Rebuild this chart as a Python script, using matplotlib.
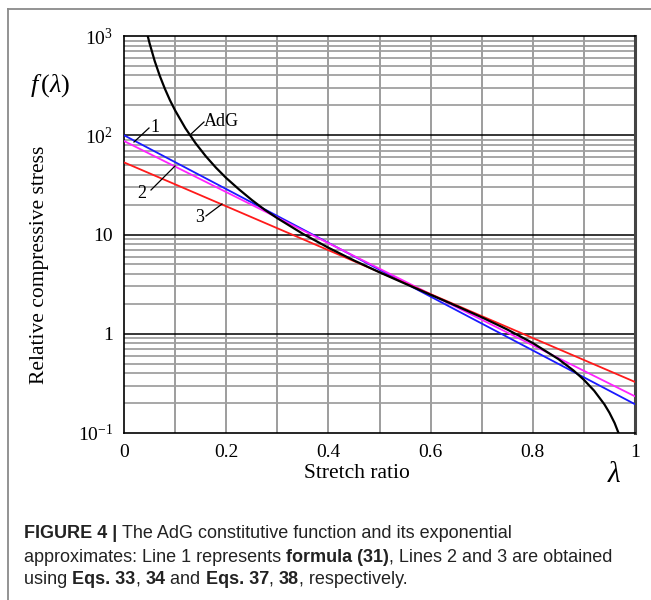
import numpy as np
import matplotlib
matplotlib.use("Agg")
import matplotlib.pyplot as plt
from matplotlib.lines import Line2D

# ---- data ----
lam_lines = [0.0, 1.0]
line1 = [100.0, 0.195]   # blue, formula (31)
line2 = [87.5, 0.234]    # magenta, Eqs. 33, 34
line3 = [53.3, 0.327]    # red, Eqs. 37, 38

adg_lam = [0.046, 0.05, 0.06, 0.07, 0.08, 0.09, 0.10, 0.12, 0.14, 0.16, 0.18,
           0.20, 0.225, 0.25, 0.275, 0.30, 0.35, 0.40, 0.45, 0.50, 0.55, 0.60,
           0.65, 0.70, 0.75, 0.80, 0.85, 0.88, 0.90, 0.92, 0.94, 0.95, 0.96,
           0.97, 0.975]
adg_f = [1021, 846, 561, 397, 294, 225, 178, 118, 83.2, 61.5, 47.1,
         37.1, 28.5, 22.3, 17.8, 14.6, 10.16, 7.36, 5.48, 4.16, 3.20, 2.47,
         1.91, 1.466, 1.104, 0.806, 0.556, 0.425, 0.3435, 0.267, 0.1948, 0.160, 0.1264,
         0.0935, 0.0774]

x_ticks = [0, 0.2, 0.4, 0.6, 0.8, 1]
x_ticklabels = ["0", "0.2", "0.4", "0.6", "0.8", "1"]
y_ticks = [0.1, 1, 10, 100, 1000]
y_ticklabels = [r"$10^{-1}$", "1", "10", r"$10^{2}$", r"$10^{3}$"]

plt.rcParams['mathtext.fontset'] = 'custom'
plt.rcParams['mathtext.rm'] = 'Liberation Serif'
plt.rcParams['mathtext.it'] = 'Liberation Serif:italic'
plt.rcParams['mathtext.bf'] = 'Liberation Serif:bold'
serif = 'Liberation Serif'

W, H = 651, 600
fig = plt.figure(figsize=(W / 100, H / 100), dpi=100)
ax = fig.add_axes([124 / W, 1 - 433 / H, (635 - 124) / W, (433 - 36) / H])

ax.set_yscale('log')
ax.set_xlim(0, 1)
ax.set_ylim(0.1, 1000)

# grid
for xv in np.arange(0.1, 1.0, 0.1):
    ax.axvline(xv, color='#8c8c8c', lw=1.2, zorder=1)
for dec in [0.1, 1, 10, 100]:
    for m in range(2, 10):
        ax.axhline(dec * m, color='#a0a0a0', lw=1.3, zorder=1)
for dec in [1, 10, 100]:
    ax.axhline(dec, color='black', lw=1.1, zorder=1.5)

ax.plot(lam_lines, line1, color='#1a1aff', lw=1.3, zorder=3)
ax.plot(lam_lines, line2, color='#ff22ff', lw=1.3, zorder=3)
ax.plot(lam_lines, line3, color='#ff1a1a', lw=1.3, zorder=3)
ax.plot(adg_lam, adg_f, color='black', lw=1.6, zorder=4)

ax.set_xticks(x_ticks)
ax.set_xticklabels(x_ticklabels, fontfamily=serif, fontsize=14)
ax.set_yticks(y_ticks)
ax.set_yticklabels(y_ticklabels, fontfamily=serif, fontsize=14)
ax.yaxis.set_minor_locator(matplotlib.ticker.NullLocator())
ax.tick_params(length=0, pad=8)
for s in ax.spines.values():
    s.set_linewidth(1.2)
ax.spines['right'].set_linewidth(2.2)
ax.spines['right'].set_color('#444444')

# annotations (figure pixel coords)
def px(x, y):
    return (x / W, 1 - y / H)

def leader(x0, y0, x1, y1):
    fig.add_artist(Line2D([x0 / W, x1 / W], [1 - y0 / H, 1 - y1 / H],
                          color='black', lw=0.9, transform=fig.transFigure, zorder=10))

leader(134, 142, 149, 128)
fig.text(*px(155, 127), "1", fontfamily=serif, fontsize=13, ha='center', va='center')
leader(190, 135, 204, 122)
fig.text(*px(221, 121), "AdG", fontfamily=serif, fontsize=13, ha='center', va='center')
leader(151, 190, 175, 166)
fig.text(*px(142, 193), "2", fontfamily=serif, fontsize=13, ha='center', va='center')
leader(206, 216, 222, 204)
fig.text(*px(200, 218), "3", fontfamily=serif, fontsize=13, ha='center', va='center')

fig.text(*px(50, 86), r"$f\,(\lambda)$", fontsize=19, ha='center', va='center')
fig.text(*px(40, 265), "Relative compressive stress", fontfamily=serif, fontsize=15.5,
         rotation=90, ha='center', va='center')
fig.text(*px(357, 474), "Stretch ratio", fontfamily=serif, fontsize=15.5,
         ha='center', va='center')
fig.text(*px(614, 474), r"$\lambda$", fontsize=21, ha='center', va='center')

# frame
fig.add_artist(Line2D([8 / W, 1], [1 - 9 / H, 1 - 9 / H], color='#8a8a8a', lw=1.3,
                      transform=fig.transFigure))
fig.add_artist(Line2D([8 / W, 8 / W], [1 - 9 / H, 0], color='#8a8a8a', lw=1.3,
                      transform=fig.transFigure))

# caption with mixed weights
cap_fam = ['Liberation Sans', 'DejaVu Sans']
caption = [
    [("FIGURE 4 | ", 'bold'), ("The AdG constitutive function and its exponential", 'normal')],
    [("approximates: Line 1 represents ", 'normal'), ("formula (31)", 'bold'),
     (", Lines 2 and 3 are obtained", 'normal')],
    [("using ", 'normal'), ("Eqs. 33", 'bold'), (", ", 'normal'), ("34", 'bold'),
     (" and ", 'normal'), ("Eqs. 37", 'bold'), (", ", 'normal'), ("38", 'bold'),
     (", respectively.", 'normal')],
]
cap_y = [533, 557, 580]
fig.canvas.draw()
renderer = fig.canvas.get_renderer()
for pieces, yy in zip(caption, cap_y):
    x = 24
    for txt, wt in pieces:
        t = fig.text(x / W, 1 - yy / H, txt, fontfamily=cap_fam, fontsize=13,
                     fontweight=wt, ha='left', va='center', color='#222222')
        bb = t.get_window_extent(renderer=renderer)
        x += bb.width

fig.savefig("out.png", dpi=100)
